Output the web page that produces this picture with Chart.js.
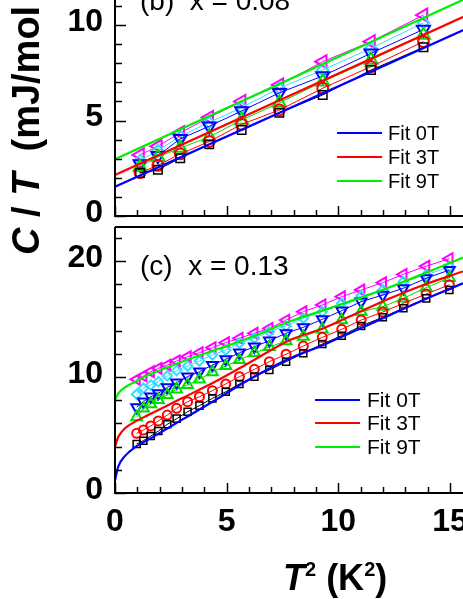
<!DOCTYPE html>
<html>
<head>
<meta charset="utf-8">
<script src="https://cdn.jsdelivr.net/npm/chart.js@4.4.1/dist/chart.umd.min.js"></script>
<style>
  body { margin: 0; background: #fff; width: 463px; height: 599px; overflow: hidden; position: relative; font-family: "Liberation Sans", Arial, sans-serif; }
  canvas { position: absolute; left: 0; }
  #topChart { top: 0; }
  #botChart { top: 220px; }
  .ytitle { position: absolute; left: 7px; top: 255px; transform-origin: 0 0; transform: rotate(-90deg);
            font: bold 38px "Liberation Sans", Arial, sans-serif; line-height: 38px; white-space: nowrap; }
  .xtitle { position: absolute; left: 283px; top: 560px; font: bold 36px "Liberation Sans", Arial, sans-serif;
            line-height: 36px; white-space: nowrap; }
  sup { font-size: 20px; vertical-align: 14px; line-height: 0; }
</style>
</head>
<body>
<canvas id="topChart" width="463" height="230"></canvas>
<canvas id="botChart" width="463" height="379"></canvas>
<div class="ytitle"><i>C</i> / <i>T</i>&nbsp; (mJ/mol K<sup>2</sup>)</div>
<div class="xtitle"><i>T</i><sup>2</sup> (K<sup>2</sup>)</div>
<script>
// axis ticks
const xMajor = [0, 5, 10, 15];
const xMinor = [0, 1, 2, 3, 4, 5, 6, 7, 8, 9, 10, 11, 12, 13, 14, 15];
const yMajorB = [0, 5, 10];
const yMinorB = [0, 1, 2, 3, 4, 5, 6, 7, 8, 9, 10, 11];
const yMajorC = [0, 10, 20];
const yMinorC = [0, 2, 4, 6, 8, 10, 12, 14, 16, 18, 20, 22];

const fitLabels = ["Fit 0T", "Fit 3T", "Fit 9T"];

// panel (b) x = 0.08
const xB = [1.12, 1.92, 2.92, 4.22, 5.67, 7.36, 9.3, 11.46, 13.81];
const b0T = [2.25, 2.42, 3.03, 3.75, 4.5, 5.4, 6.34, 7.64, 8.83];
const b1T = [2.27, 2.65, 3.25, 3.9, 4.8, 5.55, 6.69, 7.82, 9.13];
const b3T = [2.57, 3.09, 3.56, 4.14, 5.03, 5.92, 7.03, 8.17, 9.48];
const b5T = [2.72, 3.16, 4.04, 4.7, 5.5, 6.45, 7.33, 8.52, 9.77];
const b7T = [2.9, 3.43, 4.17, 4.9, 5.68, 6.7, 7.64, 8.78, 10.12];
const b9T = [3.2, 3.65, 4.36, 5.16, 6.0, 6.86, 8.08, 9.13, 10.52];
const fitXB = [0, 15.6];
const bFit0 = [1.53, 9.74];
const bFit3 = [2.15, 10.43];
const bFit9 = [2.97, 11.33];

// panel (c) x = 0.13
const xC = [0.97, 1.27, 1.6, 1.94, 2.34, 2.76, 3.25, 3.78, 4.36, 4.96, 5.57, 6.24, 6.91, 7.66, 8.43, 9.28, 10.15, 11.02, 11.99, 12.91, 13.93, 14.97];
const c0T = [4.22, 4.51, 4.91, 5.34, 5.92, 6.41, 7.01, 7.53, 8.16, 8.73, 9.4, 10.03, 10.6, 11.32, 12.04, 12.84, 13.56, 14.4, 15.15, 15.92, 16.78, 17.5];
const c1T = [5.14, 5.43, 5.78, 6.21, 6.72, 7.3, 7.87, 8.3, 8.82, 9.4, 10.03, 10.66, 11.32, 11.96, 12.67, 13.42, 14.11, 14.91, 15.6, 16.35, 17.15, 17.95];
const c3T = [6.53, 7.3, 7.67, 8.02, 8.45, 8.94, 9.31, 9.8, 10.43, 10.95, 11.47, 12.07, 12.59, 13.1, 13.47, 14.11, 14.91, 15.63, 16.06, 16.78, 17.7, 18.55];
const c5T = [7.39, 7.87, 8.3, 8.59, 9.11, 9.51, 10.03, 10.46, 11.03, 11.52, 12.09, 12.61, 13.13, 13.77, 14.28, 14.97, 15.72, 16.49, 17.07, 17.65, 18.51, 19.22];
const c7T = [8.51, 9.03, 9.31, 9.6, 10.09, 10.55, 10.95, 11.38, 11.9, 12.33, 12.91, 13.34, 13.91, 14.4, 15.06, 15.63, 16.35, 16.98, 17.5, 18.22, 18.79, 19.51];
const c9T = [9.8, 10.09, 10.46, 10.75, 11.03, 11.38, 11.75, 12.09, 12.53, 12.96, 13.34, 13.77, 14.2, 14.91, 15.63, 16.21, 16.92, 17.5, 18.13, 18.85, 19.55, 20.2];
const fitXC = [0, 0.15, 0.45, 0.9, 1.49, 2.24, 2.99, 4.48, 5.97, 7.84, 9.33, 10.82, 12.32, 13.81, 15.58];
const cFit0 = [1.1, 2.3, 3.2, 3.95, 4.6, 5.45, 6.3, 8.0, 9.74, 11.61, 12.76, 14.05, 15.34, 16.64, 18.08];
const cFit3 = [3.99, 4.85, 5.58, 6.15, 6.72, 7.44, 8.16, 9.59, 11.18, 13.19, 14.2, 15.49, 16.78, 17.93, 19.1];
const cFit9 = [8.02, 8.59, 9.11, 9.59, 10.17, 10.75, 11.32, 12.33, 13.34, 14.8, 15.75, 16.7, 17.75, 18.9, 20.3];

// symbol look per field, size is relative to the panel base size
const symbols = [
  { color: "#000000", style: "rect", rot: 0, k: 1.0, lw: 1.5 },
  { color: "#ff0000", style: "circle", rot: 0, k: 0.9, lw: 2 },
  { color: "#00dd00", style: "triangle", rot: 0, k: 1.25, lw: 2 },
  { color: "#0000ff", style: "triangle", rot: 180, k: 1.25, lw: 2 },
  { color: "#33ddff", style: "rectRot", rot: 0, k: 0.95, lw: 2 },
  { color: "#ff00ff", style: "triangle", rot: 270, k: 1.25, lw: 2 }
];
const fitColors = ["#0000ff", "#ff0000", "#00ee00"];

const pts = (xs, ys) => xs.map((x, i) => ({ x, y: ys[i] }));

function dataSets(xs, series, fitX, fits, size) {
  const sets = series.map((ys, i) => ({
    data: pts(xs, ys),
    borderColor: symbols[i].color,
    borderWidth: 1,
    pointStyle: symbols[i].style,
    pointRotation: symbols[i].rot,
    pointRadius: size * symbols[i].k,
    pointBorderWidth: symbols[i].lw,
    pointBorderColor: symbols[i].color,
    pointBackgroundColor: "rgba(0,0,0,0)",
    order: 1
  }));
  fits.forEach((ys, i) => sets.push({
    label: fitLabels[i],
    data: pts(fitX, ys),
    borderColor: fitColors[i],
    borderWidth: 2.2,
    pointRadius: 0,
    cubicInterpolationMode: "monotone",
    isFit: true,
    order: 0
  }));
  return sets;
}

// inward ticks, frame, legend and panel label
const decor = {
  id: "decor",
  afterDraw(chart, args, o) {
    const { ctx, chartArea: a, scales: { x, y } } = chart;
    ctx.save();
    ctx.strokeStyle = "#000";
    ctx.lineWidth = 1.5;
    ctx.beginPath();
    xMinor.forEach(v => {
      const px = Math.round(x.getPixelForValue(v)) + 0.5;
      ctx.moveTo(px, a.bottom);
      ctx.lineTo(px, a.bottom - (xMajor.includes(v) ? 10 : 6));
    });
    o.yMinor.forEach(v => {
      const py = Math.round(y.getPixelForValue(v)) + 0.5;
      ctx.moveTo(a.left, py);
      ctx.lineTo(a.left + (o.yMajor.includes(v) ? 11 : 7), py);
    });
    ctx.stroke();
    ctx.lineWidth = 2;
    ctx.beginPath();
    ctx.moveTo(a.left, o.topLine ? a.top : 0);
    ctx.lineTo(a.left, a.bottom);
    ctx.lineTo(a.right, a.bottom);
    if (o.topLine) { ctx.moveTo(a.left, a.top); ctx.lineTo(a.right, a.top); }
    ctx.stroke();

    // legend for the fits
    ctx.font = o.legendFont + "px 'Liberation Sans', Arial, sans-serif";
    ctx.textBaseline = "middle";
    ctx.fillStyle = "#000";
    ctx.lineWidth = 2.2;
    chart.data.datasets.filter(d => d.isFit).forEach((d, i) => {
      const ly = o.legendY[i];
      ctx.strokeStyle = d.borderColor;
      ctx.beginPath();
      ctx.moveTo(o.legendX[0], ly);
      ctx.lineTo(o.legendX[1], ly);
      ctx.stroke();
      ctx.fillText(d.label, o.legendX[2], ly + 1);
    });

    ctx.font = "28px 'Liberation Sans', Arial, sans-serif";
    ctx.textBaseline = "alphabetic";
    ctx.fillText(o.panel, 140, o.panelY);
    ctx.restore();
  }
};

const tickFont = { family: "'Liberation Sans', Arial, sans-serif", size: 32, weight: "bold" };

function makeChart(id, datasets, c) {
  return new Chart(document.getElementById(id), {
    type: "line",
    data: { datasets },
    plugins: [decor],
    options: {
      responsive: false,
      animation: false,
      events: [],
      layout: { autoPadding: false, padding: { top: c.padTop, left: 0, right: 0, bottom: 0 } },
      plugins: {
        legend: { display: false },
        tooltip: { enabled: false },
        decor: c.decor
      },
      scales: {
        x: {
          type: "linear", min: 0, max: 15.58,
          grid: { display: false, drawTicks: false },
          border: { display: false },
          ticks: { display: c.showX, font: tickFont, color: "#000", padding: 10, maxRotation: 0, autoSkip: false },
          afterBuildTicks: s => { s.ticks = xMajor.map(v => ({ value: v })); },
          afterFit: s => { s.height = c.xHeight; s.paddingLeft = 0; s.paddingRight = 0; }
        },
        y: {
          type: "linear", min: 0, max: c.yMax,
          grid: { display: false, drawTicks: false },
          border: { display: false },
          ticks: { font: tickFont, color: "#000", padding: 12, labelOffset: -3 },
          afterBuildTicks: s => { s.ticks = c.decor.yMajor.map(v => ({ value: v })); },
          afterFit: s => { s.width = 115; s.paddingTop = 0; s.paddingBottom = 0; }
        }
      }
    }
  });
}

makeChart("topChart", dataSets(xB, [b0T, b1T, b3T, b5T, b7T, b9T], fitXB, [bFit0, bFit3, bFit9], 6), {
  padTop: 0, xHeight: 14, yMax: 11.31, showX: false,
  decor: { yMajor: yMajorB, yMinor: yMinorB, topLine: false, panel: "(b)  x = 0.08", panelY: 10,
           legendX: [337, 382, 388], legendY: [133, 157, 181], legendFont: 20 }
});

makeChart("botChart", dataSets(xC, [c0T, c1T, c3T, c5T, c7T, c9T], fitXC, [cFit0, cFit3, cFit9], 5), {
  padTop: 7, xHeight: 106, yMax: 22.93, showX: true,
  decor: { yMajor: yMajorC, yMinor: yMinorC, topLine: true, panel: "(c)  x = 0.13", panelY: 55,
           legendX: [315, 360, 367], legendY: [180, 203, 227], legendFont: 21 }
});
</script>
</body>
</html>
